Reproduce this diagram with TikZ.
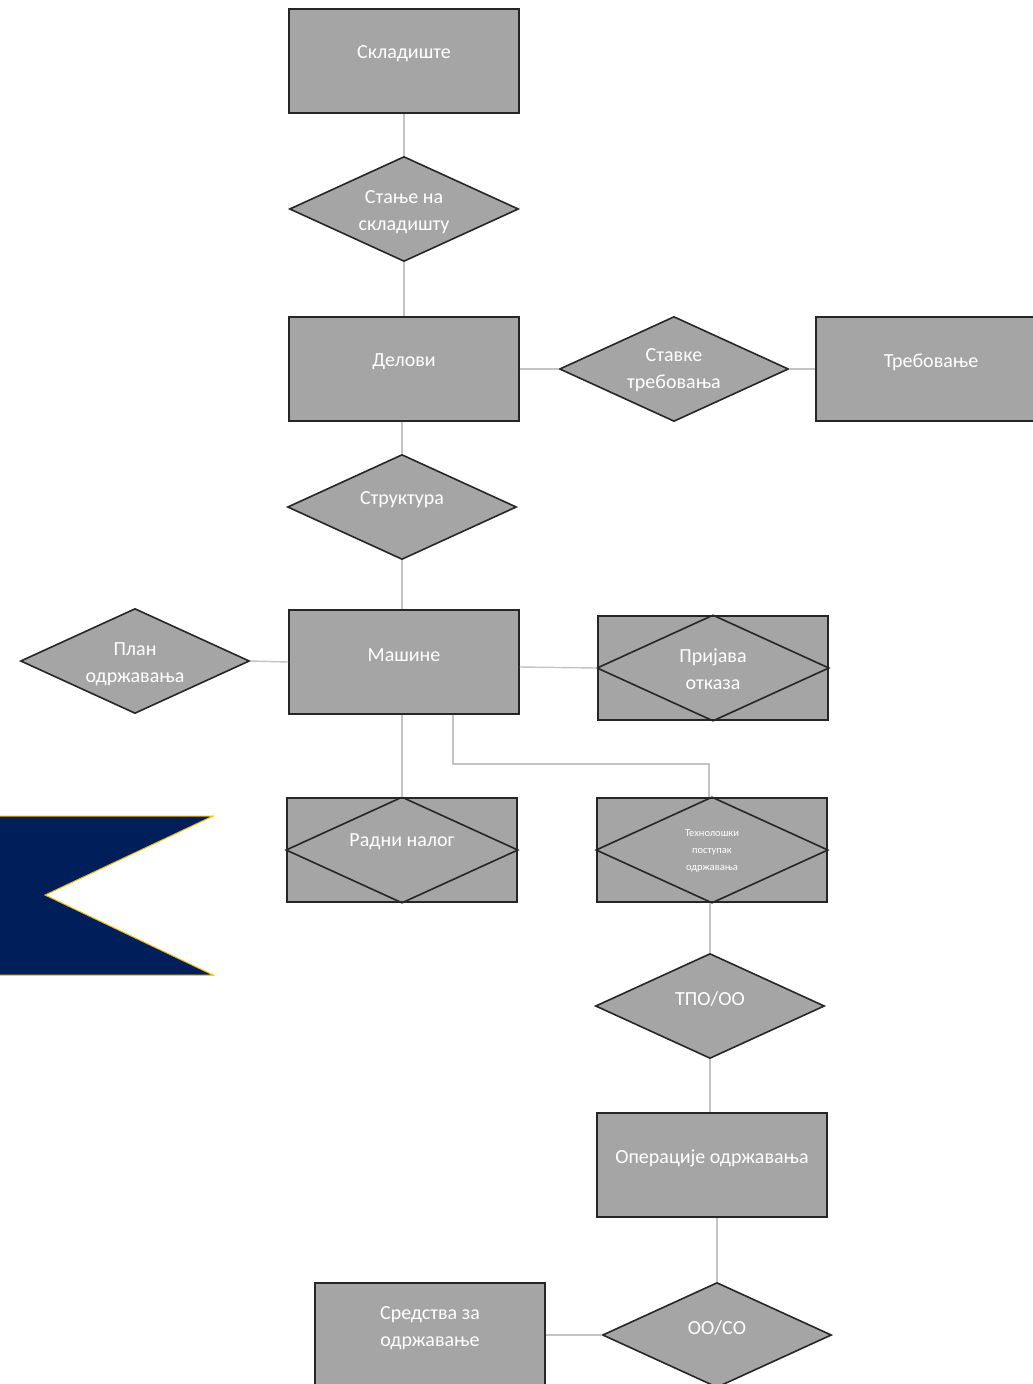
\documentclass[tikz,border=0pt]{standalone}
\usepackage{fontspec}
\setmainfont{Carlito}
\usetikzlibrary{shapes.geometric}
\definecolor{boxgray}{HTML}{A5A5A5}
\definecolor{edgegray}{HTML}{262626}
\definecolor{linkgray}{HTML}{C4C4C4}
\definecolor{flagnavy}{HTML}{001E5A}
\definecolor{flaggold}{HTML}{F5B800}

\begin{document}
\begin{tikzpicture}[x=1pt,y=-1pt,
	entity/.style={rectangle,draw=edgegray,line width=1.6pt,fill=boxgray,minimum width=230pt,minimum height=104pt,inner sep=0pt},
	relation/.style={diamond,aspect=2.2,draw=edgegray,line width=1.6pt,fill=boxgray,minimum width=229pt,minimum height=105pt,inner sep=0pt},
	txt/.style={text=white,font=\fontsize{20}{27}\selectfont,align=center},
	up/.style={txt,yshift=7pt},
	down/.style={txt,yshift=-3pt},
	link/.style={draw=linkgray,line width=1.4pt}]
	\useasboundingbox (0,0) rectangle (1033,1384);
	\clip (0,0) rectangle (1033,1384);
	% entities and relations
	\node[entity,label={[up]center:Складиште}] (sklad) at (404,61) {};
	\node[relation,label={[down]center:Стање на\\складишту}] (stanje) at (404,209) {};
	\node[entity,label={[up]center:Делови}] (delovi) at (404,369) {};
	\node[relation,label={[txt,yshift=-1pt]center:Ставке\\требовања}] (stavke) at (674,369) {};
	\node[entity,label={[up]center:Требовање}] (trebovanje) at (931,369) {};
	\node[relation,label={[up]center:Структура}] (struktura) at (402,507) {};
	\node[entity,label={[up]center:Машине}] (masine) at (404,662) {};
	\node[relation,label={[down]center:План\\одржавања}] (plan) at (135,661) {};
	\node[entity] (prijava) at (713,668) {};
	\node[entity] (nalog) at (402,850) {};
	\node[entity] (tehno) at (712,850) {};
	\node[relation,label={[up]center:ТПО/ОО}] (tpo) at (710,1006) {};
	\node[entity,label={[up]center:Операције одржавања}] (operacije) at (712,1165) {};
	\node[relation,label={[up]center:ОО/СО}] (ooco) at (717,1335) {};
	\node[entity,label={[up]center:Средства за\\одржавање}] (sredstva) at (430,1335) {};
	% diamonds inside the weak boxes
	\draw[edgegray,line width=1.6pt] (prijava.north) -- (prijava.east) -- (prijava.south) -- (prijava.west) -- cycle;
	\draw[edgegray,line width=1.6pt] (nalog.north) -- (nalog.east) -- (nalog.south) -- (nalog.west) -- cycle;
	\draw[edgegray,line width=1.6pt] (tehno.north) -- (tehno.east) -- (tehno.south) -- (tehno.west) -- cycle;
	\node[txt,yshift=-1pt] (prijava-t) at (prijava) {Пријава\\отказа};
	\node[up,yshift=1pt] (nalog-t) at (nalog) {Радни налог};
	\node[txt,font=\fontsize{10.5}{17}\selectfont,yshift=-1pt] (tehno-t) at (tehno) {Технолошки\\поступак\\одржавања};
	% links
	\draw[link] (sklad.south) -- (stanje.north);
	\draw[link] (stanje.south) -- (delovi.north);
	\draw[link] (delovi.east) -- (stavke.west);
	\draw[link] (stavke.east) -- (trebovanje.west);
	\draw[link] (struktura.north |- delovi.south) -- (struktura.north);
	\draw[link] (struktura.south) -- (struktura.south |- masine.north);
	\draw[link] (plan.east) -- (masine.west);
	\draw[link] ([yshift=-5pt]masine.east) -- (prijava.west);
	\draw[link] (nalog.north |- masine.south) -- (nalog.north);
	\draw[link] ([xshift=49pt]masine.south) -- ++(0,49) -| ([xshift=-3pt]tehno.north);
	\draw[link] (tpo.north |- tehno.south) -- (tpo.north);
	\draw[link] (tpo.south) -- (tpo.south |- operacije.north);
	\draw[link] (ooco.north |- operacije.south) -- (ooco.north);
	\draw[link] (sredstva.east) -- (ooco.west);
	% flag
	\fill[flagnavy] (0,816) -- (213,816) -- (45,895) -- (213,975) -- (0,975) -- cycle;
	\draw[flaggold,line width=1pt] (0,816) -- (213,816) -- (45,895) -- (213,975) -- (0,975);
\end{tikzpicture}
\end{document}
